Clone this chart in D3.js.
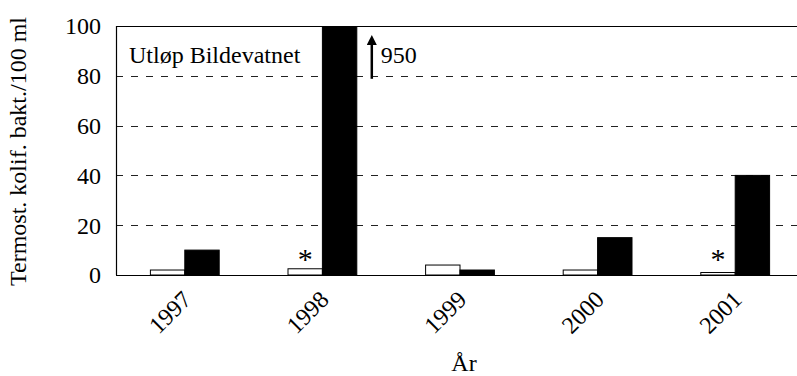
<!DOCTYPE html>
<html>
<head>
<meta charset="utf-8">
<script src="https://cdn.jsdelivr.net/npm/d3@7/dist/d3.min.js"></script>
<style>
  body { margin: 0; background: #fff; }
</style>
</head>
<body>
<svg id="chart" width="797" height="376"></svg>
<script>
// Thermotolerant coliform bacteria per 100 ml, outlet of Bildevatnet
const years = ["1997", "1998", "1999", "2000", "2001"];
const seriesA = [2, 2.5, 4, 2, 1];      // white bars
const seriesB = [10, 950, 2, 15, 40];   // black bars
const marked = [false, true, false, false, true]; // asterisk above white bar
const yTicks = [0, 20, 40, 60, 80, 100];
const yMax = 100;

const FONT = "'Liberation Serif', 'DejaVu Serif', serif";
const FS = 24;

const svg = d3.select("#chart").attr("font-family", FONT);
const margin = { left: 116, top: 26, right: -7, bottom: 101 };
const W = 797, H = 376;
const x0 = margin.left, x1 = W - margin.right;
const yTop = margin.top, yBot = H - margin.bottom;

const x = d3.scaleBand().domain(years).range([x0, x1]).paddingInner(0).paddingOuter(0);
const y = d3.scaleLinear().domain([0, yMax]).range([yBot, yTop]);
const barW = x.bandwidth() * 0.25;

const clipId = "plotclip";
svg.append("clipPath").attr("id", clipId)
  .append("rect").attr("x", x0).attr("y", yTop).attr("width", x1 - x0).attr("height", yBot - yTop + 1);

// gridlines
svg.append("g").selectAll("line").data(yTicks.filter(t => t > 0 && t < yMax)).join("line")
  .attr("x1", x0).attr("x2", x1)
  .attr("y1", d => Math.round(y(d)) + 0.5).attr("y2", d => Math.round(y(d)) + 0.5)
  .attr("stroke", "#222").attr("stroke-width", 1).attr("stroke-dasharray", "7,8");

// top border line
svg.append("line").attr("x1", x0).attr("x2", x1)
  .attr("y1", Math.round(y(yMax)) + 0.5).attr("y2", Math.round(y(yMax)) + 0.5)
  .attr("stroke", "#000").attr("stroke-width", 1.2);

const bars = svg.append("g").attr("clip-path", `url(#${clipId})`);
const mid = d => x(d) + x.bandwidth() / 2;

bars.selectAll("rect.a").data(years).join("rect").attr("class", "a")
  .attr("x", d => mid(d) - barW).attr("width", barW)
  .attr("y", (d, i) => y(seriesA[i])).attr("height", (d, i) => yBot - y(seriesA[i]))
  .attr("fill", "#fff").attr("stroke", "#000").attr("stroke-width", 1);

bars.selectAll("rect.b").data(years).join("rect").attr("class", "b")
  .attr("x", d => mid(d)).attr("width", barW)
  .attr("y", (d, i) => y(Math.min(seriesB[i], yMax))).attr("height", (d, i) => yBot - y(Math.min(seriesB[i], yMax)))
  .attr("fill", "#000").attr("stroke", "#000").attr("stroke-width", 1);

// axes lines
svg.append("line").attr("x1", x0 + 0.5).attr("x2", x0 + 0.5).attr("y1", yTop).attr("y2", yBot)
  .attr("stroke", "#000").attr("stroke-width", 1.2);
svg.append("line").attr("x1", x0).attr("x2", x1).attr("y1", yBot + 0.5).attr("y2", yBot + 0.5)
  .attr("stroke", "#000").attr("stroke-width", 1.2);

// y tick labels
svg.append("g").selectAll("text").data(yTicks).join("text")
  .attr("x", 101).attr("y", d => y(d)).attr("dy", "0.35em")
  .attr("text-anchor", "end").attr("font-size", FS).text(d => d);

// x tick labels
svg.append("g").selectAll("text").data(years).join("text")
  .attr("transform", d => `translate(${mid(d) + 2},${yBot + 20}) rotate(-45)`)
  .attr("text-anchor", "end").attr("dy", "0.35em").attr("font-size", FS).text(d => d);

// asterisks
svg.append("g").selectAll("text").data(years.filter((d, i) => marked[i])).join("text")
  .attr("x", d => mid(d) - barW / 2).attr("y", y(0) - 6)
  .attr("text-anchor", "middle").attr("font-size", 30).text("*");

// axis titles
svg.append("text").attr("transform", `translate(26,${(yTop + yBot) / 2 + 1}) rotate(-90)`)
  .attr("text-anchor", "middle").attr("font-size", FS).text("Termost. kolif. bakt./100 ml");
svg.append("text").attr("x", 464).attr("y", 371)
  .attr("text-anchor", "middle").attr("font-size", FS).text("År");

// site label
svg.append("text").attr("x", 129).attr("y", 63).attr("font-size", FS).text("Utløp Bildevatnet");

// off-scale value for the 1998 black bar
const iOver = seriesB.findIndex(v => v > yMax);
const ax = mid(years[iOver]) + barW + 15;
svg.append("defs").append("marker").attr("id", "arrowhead")
  .attr("viewBox", "0 0 10 10").attr("refX", 5).attr("refY", 5)
  .attr("markerWidth", 4).attr("markerHeight", 4).attr("orient", "auto")
  .append("path").attr("d", "M0,0 L10,5 L0,10 z").attr("fill", "#000");
svg.append("line").attr("x1", ax).attr("x2", ax).attr("y1", y(80) + 3).attr("y2", y(100) + 14)
  .attr("stroke", "#000").attr("stroke-width", 2.5).attr("marker-end", "url(#arrowhead)");
svg.append("text").attr("x", ax + 9).attr("y", 63).attr("font-size", FS).text(seriesB[iOver]);
</script>
</body>
</html>
